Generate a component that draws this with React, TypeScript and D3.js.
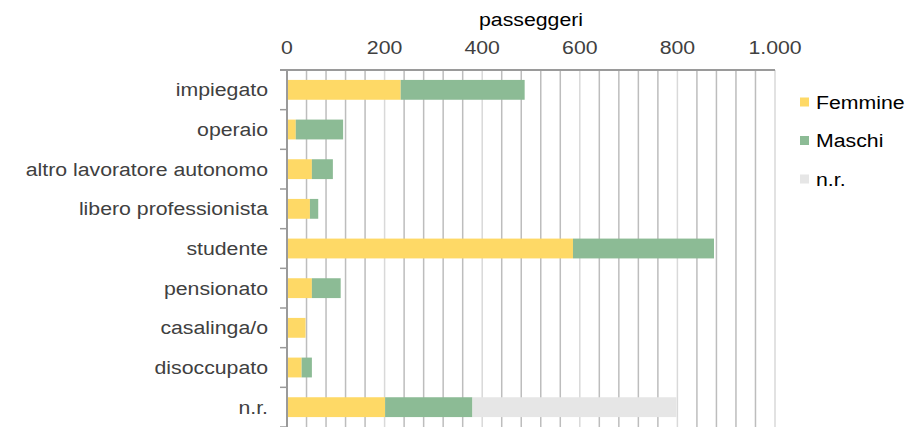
import { useMemo } from "react"
import { scaleBand, scaleLinear, range } from "d3"

const categories = [
  "impiegato",
  "operaio",
  "altro lavoratore autonomo",
  "libero professionista",
  "studente",
  "pensionato",
  "casalinga/o",
  "disoccupato",
  "n.r.",
]

const femmine = [233, 18, 51, 47, 586, 51, 38, 30, 201]
const maschi = [254, 97, 43, 17, 289, 59, 0, 21, 179]
const nonRisposto = [0, 0, 0, 0, 0, 0, 0, 0, 418]

const tickValues = [0, 200, 400, 600, 800, 1000]
const tickLabels = ["0", "200", "400", "600", "800", "1.000"]

const seriesDefs = [
  { key: "femmine", label: "Femmine", color: "#fed966", values: femmine },
  { key: "maschi", label: "Maschi", color: "#8cbb95", values: maschi },
  { key: "nr", label: "n.r.", color: "#e6e6e6", values: nonRisposto },
]

const FONT = "'Liberation Sans', Arial, sans-serif"
const STRETCH = "scale(1.12,1)"

export default function App() {
  const width = 919
  const height = 427
  const margin = { top: 70, right: 144, bottom: 0, left: 287 }
  const innerWidth = width - margin.left - margin.right
  const innerHeight = height - margin.top - margin.bottom

  const xScale = useMemo(() => scaleLinear().domain([0, 1000]).range([0, innerWidth]), [innerWidth])
  const yScale = useMemo(
    () => scaleBand<string>().domain(categories).range([0, innerHeight]).paddingInner(0.5).paddingOuter(0.25),
    [innerHeight]
  )
  const step = innerHeight / categories.length

  const stacks = useMemo(() => {
    return categories.map((cat, i) => {
      let acc = 0
      return seriesDefs.map((s) => {
        const v = s.values[i]
        const seg = { key: s.key, cat, x0: acc, x1: acc + v, color: s.color }
        acc += v
        return seg
      })
    })
  }, [])

  const gridValues = range(0, 1001, 40)

  return (
    <div style={{ position: "absolute", left: 0, top: 0 }}>
      <svg width={width} height={height} style={{ display: "block", background: "#fff" }} fontFamily={FONT}>
        <text transform={`translate(${margin.left + innerWidth / 2},26) ${STRETCH}`} textAnchor="middle" fontSize={19} fill="#000">
          passeggeri
        </text>

        <g transform={`translate(${margin.left},${margin.top})`}>
          {gridValues.map((v) => (
            <line
              key={v}
              x1={xScale(v)}
              x2={xScale(v)}
              y1={0}
              y2={innerHeight}
              stroke={v % 200 === 0 ? "#d9d9d9" : "#bdbdbd"}
              strokeWidth={1.5}
            />
          ))}

          {stacks.map((segs) =>
            segs
              .filter((s) => s.x1 > s.x0)
              .map((s) => (
                <rect
                  key={`${s.cat}-${s.key}`}
                  x={xScale(s.x0)}
                  width={xScale(s.x1) - xScale(s.x0)}
                  y={yScale(s.cat)}
                  height={yScale.bandwidth()}
                  fill={s.color}
                />
              ))
          )}

          <line x1={-7} x2={innerWidth} y1={0} y2={0} stroke="#9a9a9a" strokeWidth={2} />
          <line x1={0} x2={0} y1={0} y2={innerHeight} stroke="#9a9a9a" strokeWidth={2} />
          {range(1, categories.length + 1).map((i) => (
            <line key={i} x1={-7} x2={0} y1={i * step} y2={i * step} stroke="#9a9a9a" strokeWidth={1.5} />
          ))}

          {tickValues.map((v, i) => (
            <text
              key={v}
              transform={`translate(${xScale(v)},-16) ${STRETCH}`}
              textAnchor="middle"
              fontSize={19}
              fill="#404040"
            >
              {tickLabels[i]}
            </text>
          ))}

          {categories.map((cat) => (
            <text
              key={cat}
              transform={`translate(-19,${(yScale(cat) ?? 0) + yScale.bandwidth() / 2}) ${STRETCH}`}
              dy="0.35em"
              textAnchor="end"
              fontSize={19}
              fill="#404040"
            >
              {cat}
            </text>
          ))}
        </g>

        <g transform="translate(800,102)">
          {seriesDefs.map((s, i) => (
            <g key={s.key} transform={`translate(0,${i * 38.5})`}>
              <rect x={0} y={-4.5} width={9} height={9} fill={s.color} />
              <text transform={`translate(16,0) ${STRETCH}`} dy="0.35em" fontSize={19} fill="#000">
                {s.label}
              </text>
            </g>
          ))}
        </g>
      </svg>
    </div>
  )
}
